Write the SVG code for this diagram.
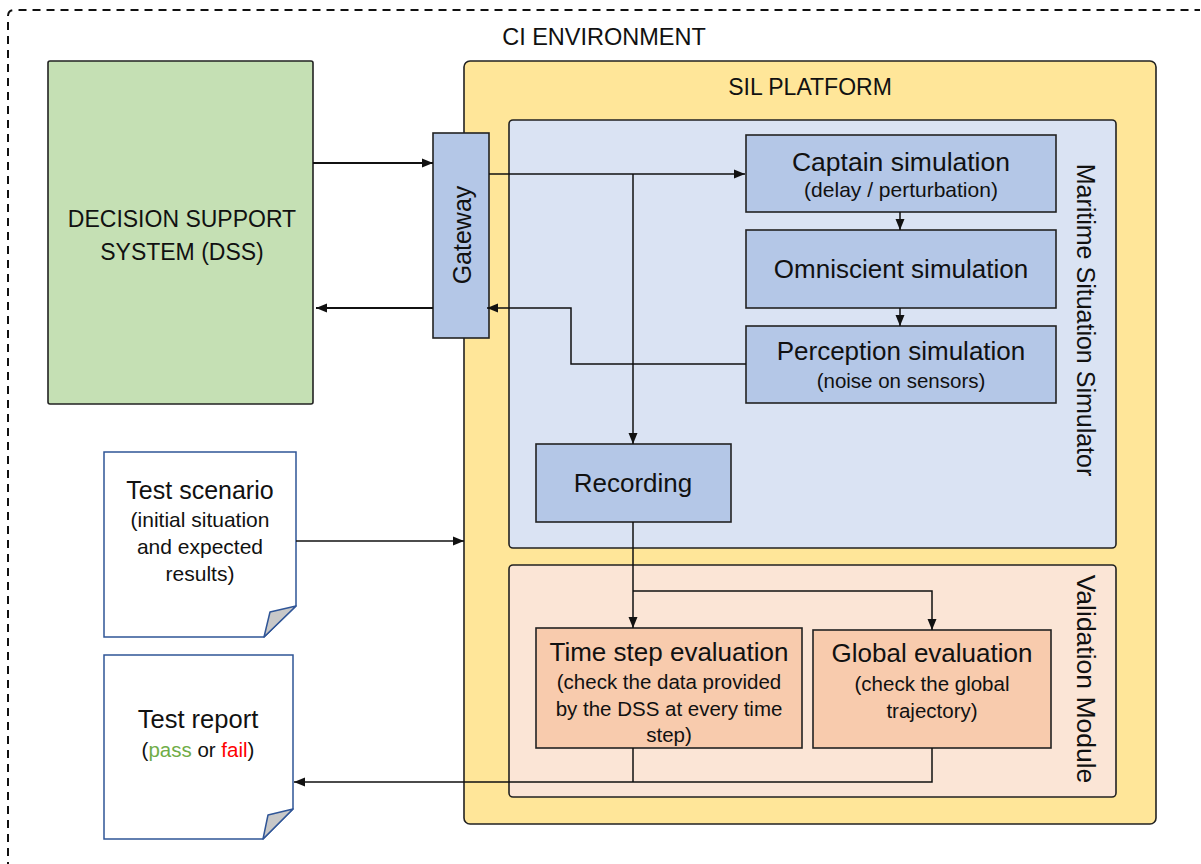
<svg xmlns="http://www.w3.org/2000/svg" width="1201" height="864" viewBox="0 0 1201 864">
<defs>
<marker id="ah" markerUnits="userSpaceOnUse" markerWidth="12" markerHeight="12" viewBox="0 0 12 12" refX="11" refY="6" orient="auto">
<path d="M0,1.5 L11,6 L0,10.5 Z" fill="#111"/>
</marker>
<style>
text{font-family:"Liberation Sans",Arial,sans-serif;fill:#111;text-anchor:middle}
.box{stroke:#222;stroke-width:1.6}
.blue{fill:#b4c7e7}
.orange{fill:#f8cbad}
.doc{fill:#fff;stroke:#2f5597;stroke-width:1.5}
.fold{fill:#c8c8c8;stroke:#2f5597;stroke-width:1.5;stroke-linejoin:round}
.t{font-size:26px}
.s{font-size:20.5px}
.c{fill:none;stroke:#111;stroke-width:1.5}
.c2{fill:none;stroke:#111;stroke-width:2}
</style>
</defs>
<g id="ci-environment">
<path d="M8,870 V16 Q8,10 14,10 H1200" fill="none" stroke="#111" stroke-width="2" stroke-dasharray="8 6"/>
<text x="604" y="45" style="font-size:23.5px">CI ENVIRONMENT</text>
</g>
<g id="dss">
<rect class="box" x="48" y="61" width="265" height="343" rx="2" fill="#c5e0b4"/>
<text x="182" y="227" style="font-size:23px">DECISION SUPPORT</text>
<text x="182" y="260" style="font-size:23px">SYSTEM (DSS)</text>
</g>
<g id="sil-platform">
<rect class="box" x="464" y="61" width="692" height="763" rx="6" fill="#ffe699"/>
<text x="810" y="95" style="font-size:23px">SIL PLATFORM</text>
</g>
<g id="maritime-situation-simulator">
<rect class="box" x="509" y="120" width="607" height="428" rx="4" fill="#dae3f3"/>
<text transform="translate(1077,320) rotate(90)" style="font-size:25px">Maritime Situation Simulator</text>
</g>
<g id="validation-module">
<rect class="box" x="509" y="565" width="607" height="232" rx="4" fill="#fbe5d6"/>
<text transform="translate(1077,679) rotate(90)" style="font-size:26.5px">Validation Module</text>
</g>
<g id="gateway">
<rect class="box blue" x="433" y="133" width="56" height="205"/>
<text transform="translate(471,235) rotate(-90)" style="font-size:25px">Gateway</text>
</g>
<g id="captain-simulation">
<rect class="box blue" x="746" y="135" width="310" height="77"/>
<text x="901" y="171" style="font-size:26.5px">Captain simulation</text>
<text x="901" y="197" style="font-size:21px">(delay / perturbation)</text>
</g>
<g id="omniscient-simulation">
<rect class="box blue" x="746" y="230" width="310" height="78"/>
<text class="t" x="901" y="278">Omniscient simulation</text>
</g>
<g id="perception-simulation">
<rect class="box blue" x="746" y="326" width="310" height="77"/>
<text class="t" x="901" y="360">Perception simulation</text>
<text class="s" x="901" y="388">(noise on sensors)</text>
</g>
<g id="recording">
<rect class="box blue" x="536" y="444" width="195" height="78"/>
<text class="t" x="633" y="492">Recording</text>
</g>
<g id="time-step-evaluation">
<rect class="box orange" x="536" y="628" width="266" height="120"/>
<text class="t" x="669" y="661">Time step evaluation</text>
<text class="s" x="669" y="689">(check the data provided</text>
<text class="s" x="669" y="716">by the DSS at every time</text>
<text class="s" x="669" y="742">step)</text>
</g>
<g id="global-evaluation">
<rect class="box orange" x="813" y="630" width="238" height="118"/>
<text class="t" x="932" y="662">Global evaluation</text>
<text class="s" x="932" y="691">(check the global</text>
<text class="s" x="932" y="718">trajectory)</text>
</g>
<g id="test-scenario">
<path class="doc" d="M104,452 H296 V606 L264,637 H104 Z"/>
<path class="fold" d="M264,637 L270,612 L296,606 Z"/>
<text x="200" y="499" style="font-size:25px">Test scenario</text>
<text x="200" y="527" style="font-size:21px">(initial situation</text>
<text x="200" y="554" style="font-size:21px">and expected</text>
<text x="200" y="581" style="font-size:21px">results)</text>
</g>
<g id="test-report">
<path class="doc" d="M104,655 H293 V809 L263,839 H104 Z"/>
<path class="fold" d="M263,839 L268,815 L293,809 Z"/>
<text x="198" y="728" style="font-size:25.5px">Test report</text>
<text class="s" x="198" y="757">(<tspan style="fill:#70ad47">pass</tspan> or <tspan style="fill:#ff0000">fail</tspan>)</text>
</g>
<g id="connectors">
<path class="c2" d="M313,163 H433" marker-end="url(#ah)"/>
<path class="c2" d="M433,308 H316" marker-end="url(#ah)"/>
<path class="c" d="M489,174 H745" marker-end="url(#ah)"/>
<path class="c" d="M633,174 V444" marker-end="url(#ah)"/>
<path class="c" d="M746,364 H571 V308 H487" marker-end="url(#ah)"/>
<path class="c" d="M900,212 V230" marker-end="url(#ah)"/>
<path class="c" d="M900,308 V326" marker-end="url(#ah)"/>
<path class="c" d="M633,522 V628" marker-end="url(#ah)"/>
<path class="c" d="M633,591 H932 V630" marker-end="url(#ah)"/>
<path class="c" d="M296,541 H464" marker-end="url(#ah)"/>
<path class="c" d="M633,748 V782"/>
<path class="c" d="M932,748 V782 H294" marker-end="url(#ah)"/>
</g>
</svg>
